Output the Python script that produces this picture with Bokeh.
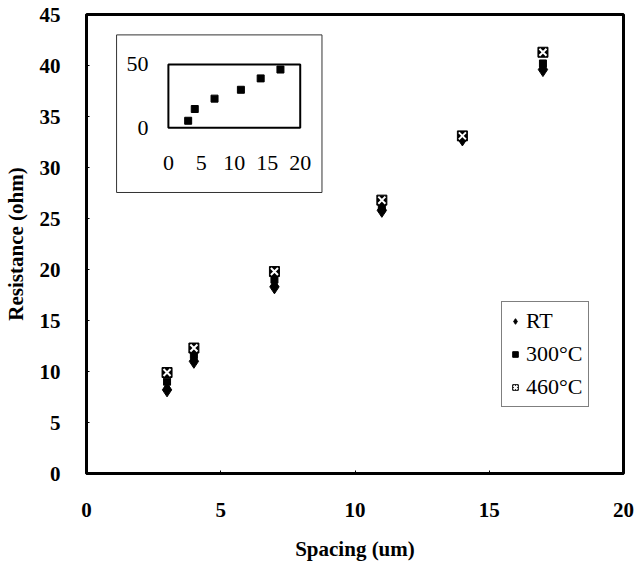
from bokeh.plotting import figure
from bokeh.models import Range1d, Legend, LegendItem, FixedTicker
from bokeh.core.properties import value
from bokeh.embed import file_html
from bokeh.resources import INLINE

# ---- data ----
spacing = [3, 4, 7, 11, 14, 17]
res_rt = [8.2, 11.0, 18.3, 25.8, 32.8, 39.6]
res_300 = [9.0, 11.6, 19.0, 26.0, 33.0, 40.2]
res_460 = [9.9, 12.3, 19.8, 26.8, 33.1, 41.3]
inset_x = [3, 4, 7, 11, 14, 17]
inset_y = [5.5, 14.8, 23.0, 30.0, 39.0, 46.0]
x_ticks = [0, 5, 10, 15, 20]
y_ticks = [0, 5, 10, 15, 20, 25, 30, 35, 40, 45]
inset_xticks = [0, 5, 10, 15, 20]
inset_yticks = [0, 50]
legend_labels = ["RT", "300°C", "460°C"]

SERIF = "Liberation Serif"

p = figure(width=637, height=572, output_backend="svg", toolbar_location=None,
           x_range=Range1d(0, 20), y_range=Range1d(0, 45),
           min_border_left=85, min_border_right=14, min_border_top=14, min_border_bottom=99)
p.grid.visible = False
p.outline_line_color = "black"
p.outline_line_width = 3
p.background_fill_color = "white"
p.border_fill_color = "white"

for ax in (p.xaxis[0], p.yaxis[0]):
    ax.axis_line_width = 3
    ax.major_tick_out = 0
    ax.major_tick_in = 3
    ax.minor_tick_out = 0
    ax.minor_tick_in = 0
    ax.major_label_text_font = SERIF
    ax.major_label_text_font_style = "bold"
    ax.major_label_text_font_size = "21px"
    ax.major_label_text_color = "black"
    ax.axis_label_text_font = SERIF
    ax.axis_label_text_font_style = "bold"
    ax.axis_label_text_font_size = "21px"
    ax.axis_label_text_color = "black"

p.xaxis.ticker = FixedTicker(ticks=x_ticks)
p.yaxis.ticker = FixedTicker(ticks=y_ticks)
p.xaxis.axis_label = "Spacing (um)"
p.yaxis.axis_label = "Resistance (ohm)"
p.xaxis.major_label_standoff = 29
p.yaxis.major_label_standoff = 26
p.xaxis.axis_label_standoff = 17
p.yaxis.axis_label_standoff = 9

# ---- inset (placed in main coords) ----
p.quad(left=1.12, right=8.77, bottom=27.55, top=43.0,
       fill_color="white", line_color="#333333", line_width=1)
ix0, ix1 = 3.05, 7.96
iy0, iy1 = 33.9, 40.1
p.quad(left=ix0, right=ix1, bottom=iy0, top=iy1,
       fill_color=None, line_color="black", line_width=2)

kx = 20 / (ix1 - ix0)
ky = 50 / (iy1 - iy0)
p.extra_x_ranges = {"ix": Range1d(0 - ix0 * kx, 20 + (20 - ix1) * kx)}
p.extra_y_ranges = {"iy": Range1d(0 - iy0 * ky, 50 + (45 - iy1) * ky)}

p.scatter(inset_x, inset_y, marker="square", size=7, color="black",
          x_range_name="ix", y_range_name="iy")
p.text(x=[-3.0] * len(inset_yticks), y=inset_yticks, text=[str(t) for t in inset_yticks],
       x_range_name="ix", y_range_name="iy", text_align="right", text_baseline="middle",
       text_font=value(SERIF), text_font_size="22px", text_color="black")
p.text(x=inset_xticks, y=[-28] * len(inset_xticks), text=[str(t) for t in inset_xticks],
       x_range_name="ix", y_range_name="iy", text_align="center", text_baseline="middle",
       text_font=value(SERIF), text_font_size="22px", text_color="black")

# ---- main data ----
r_rt = p.scatter(spacing, res_rt, marker="diamond", size=14, color="black")
r_300 = p.scatter(spacing, res_300, marker="square", size=7, color="black")
r_460a = p.scatter(spacing, res_460, marker="square", size=10, color="black")
r_460b = p.scatter(spacing, res_460, marker="x", size=10, line_color="white", line_width=2)

legend = Legend(items=[
    LegendItem(label=legend_labels[0], renderers=[r_rt]),
    LegendItem(label=legend_labels[1], renderers=[r_300]),
    LegendItem(label=legend_labels[2], renderers=[r_460a, r_460b]),
], location=(415, 66))
legend.border_line_color = "black"
legend.border_line_width = 1
legend.background_fill_color = "white"
legend.background_fill_alpha = 1
legend.label_text_font = SERIF
legend.label_text_font_size = "22px"
legend.label_text_color = "black"
legend.glyph_width = 14
legend.glyph_height = 20
legend.label_height = 26
legend.spacing = 7
legend.padding = 6
legend.margin = 0
legend.label_standoff = 4
p.add_layout(legend, "center")

open("out.html", "w").write(file_html(p, INLINE))
